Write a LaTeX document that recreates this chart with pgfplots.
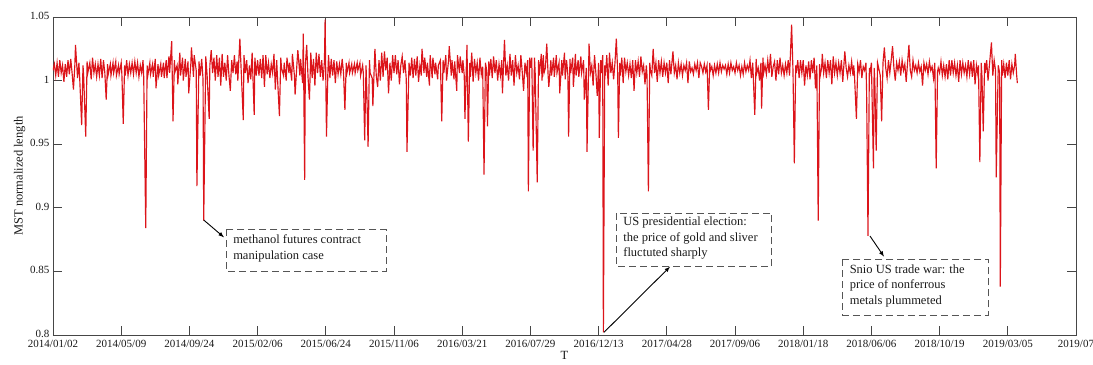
\documentclass[border=0pt]{standalone}
\usepackage{pgfplots}
\pgfplotsset{compat=1.18}
\usepackage{fontspec}
\setmainfont{Liberation Serif}
\definecolor{linered}{RGB}{220,20,26}
\definecolor{framegray}{RGB}{70,70,70}
\definecolor{boxgray}{RGB}{85,85,85}
\begin{document}
\begin{tikzpicture}
\begin{axis}[
  scale only axis,
  width=1023pt, height=318pt,
  xmin=0, xmax=1500, ymin=0.8, ymax=1.05,
  xtick={0,100,...,1500},
  xticklabels={2014/01/02,2014/05/09,2014/09/24,2015/02/06,2015/06/24,2015/11/06,2016/03/21,2016/07/29,2016/12/13,2017/04/28,2017/09/06,2018/01/18,2018/06/06,2018/10/19,2019/03/05,2019/07},
  ytick={0.8,0.85,0.9,0.95,1,1.05},
  yticklabels={0.8,0.85,0.9,0.95,1,1.05},
  tick align=inside,
  major tick length=9pt,
  axis line style={framegray, line width=0.8pt},
  tick style={framegray, line width=0.8pt},
  ticklabel style={font=\fontsize{11}{13}\selectfont, text=black!90},
  xticklabel style={yshift=-1.5pt},
  yticklabel style={yshift=1pt},
  /pgf/number format/assume math mode=true,
  xlabel={T}, ylabel={MST normalized length},
  label style={font=\fontsize{12.5}{15}\selectfont, text=black!90},
  xlabel style={yshift=3pt},
  ylabel style={yshift=-2pt},
  clip=true,
]
\addplot[linered, line width=1.15pt] coordinates {
(0,1.008)(2,1.013)(4,1.004)(6,1.014)(8,1.003)(10,1.016)(12,1.006)(14,1.012)(16,0.999)(18,1.013)(20,1.003)(22,1.016)(24,1.005)(26,1.017)(28,1.006)(30,0.993)(32,1.012)(33,1.028)(36,1.002)(38,1.014)(39,1.004)(42,0.965)(44,1.012)(45,1.003)(48,0.956)(50,1.015)(51,1.006)(54,1.014)(56,1.001)(58,1.018)(60,1.006)(62,1.013)(64,1.003)(66,1.013)(68,1.004)(70,1.017)(72,1.002)(74,1.016)(76,1.006)(78,0.985)(80,1.013)(81,1.005)(84,1.013)(85,1.004)(88,1.014)(89,1.006)(92,1.015)(93,1.004)(96,1.012)(97,1.005)
(100,1.014)(101,1.005)(103,0.966)(105,1.012)(106,1.004)(108,1.016)(110,1.004)(112,1.013)(114,1.006)(116,1.014)(118,1.005)(120,1.015)(122,1.006)(124,1.014)(126,1.003)(128,1.012)(130,1.006)(132,1.016)(133,1.003)(136,0.884)(138,1.012)(139,1.004)(142,1.014)(143,1.005)(146,1.013)(147,1.003)(150,1.017)(151,0.994)(154,1.013)(155,1.004)(158,1.013)(159,1.003)(162,1.014)(163,1.002)(166,1.016)(167,1.002)(170,1.019)(171,1.006)(174,1.031)(176,0.968)(178,1.016)(179,1.007)(182,1.012)(183,0.997)(186,1.022)(187,1.004)(190,1.018)(191,1.000)(194,1.017)(195,1.003)(198,1.015)(199,0.990)
(202,1.012)(203,1.026)(206,1.003)(207,1.020)(210,1.008)(211,0.917)(214,1.015)(216,1.004)(218,1.017)(220,1.001)(221,0.890)(224,1.019)(226,1.004)(229,0.970)(230,1.012)(232,1.024)(234,1.006)(236,1.018)(238,1.000)(240,1.020)(242,1.003)(244,1.018)(246,0.996)(248,1.021)(250,1.003)(252,1.014)(254,1.000)(256,1.020)(258,1.004)(260,0.992)(262,1.016)(264,1.006)(266,1.020)(268,1.005)(270,1.015)(271,1.000)(274,1.033)(276,1.007)(279,0.969)(280,1.020)(282,1.006)(284,1.016)(286,0.998)(288,1.012)(290,1.001)(292,1.022)(295,0.973)(296,1.018)(298,1.004)
(300,1.016)(302,1.004)(304,1.017)(306,1.002)(308,1.020)(310,0.995)(312,1.020)(314,1.005)(316,1.014)(318,1.002)(320,1.013)(322,1.006)(324,1.021)(326,0.993)(328,1.016)(329,1.004)(332,0.972)(334,1.018)(335,1.010)(338,1.004)(339,1.014)(342,1.000)(343,1.018)(346,1.006)(347,1.014)(350,1.000)(351,1.021)(354,1.004)(355,0.989)(358,1.016)(359,1.024)(362,1.004)(363,1.017)(366,0.998)(367,1.037)(369,0.922)(370,1.012)(372,1.028)(374,1.002)(376,0.985)(378,1.022)(380,1.002)(382,1.017)(384,0.996)(386,1.022)(388,1.006)(390,1.021)(392,1.003)(394,1.016)(396,1.000)(398,1.015)(399,1.048)(401,0.956)
(403,1.006)(404,1.020)(406,1.002)(408,1.017)(410,1.004)(412,1.016)(414,0.998)(416,1.015)(418,1.005)(420,1.013)(422,1.005)(424,1.017)(426,1.006)(428,0.977)(430,1.014)(431,1.006)(434,1.014)(435,1.006)(438,1.013)(439,1.006)(442,1.013)(443,1.006)(446,1.014)(447,1.008)(450,1.014)(451,1.004)(454,1.012)(455,1.006)(457,0.953)(459,1.012)(460,0.994)(462,0.948)(464,1.016)(465,1.006)(468,1.002)(469,0.980)(471,1.010)(472,1.025)(474,1.004)(476,0.995)(478,1.016)(480,1.000)(482,1.022)(484,1.003)(486,1.023)(488,1.008)(490,1.018)(492,0.990)(494,1.014)(496,1.000)(498,1.020)
(500,1.006)(502,1.020)(504,1.005)(506,1.016)(508,0.997)(510,1.012)(512,1.019)(514,1.006)(516,1.016)(518,1.001)(519,0.944)(522,1.014)(524,1.004)(526,1.018)(528,1.002)(530,1.017)(532,1.004)(534,1.019)(536,0.999)(538,1.012)(540,1.004)(541,1.025)(544,1.006)(545,1.018)(548,1.003)(549,1.014)(552,0.996)(553,1.020)(556,1.002)(557,1.018)(560,1.005)(561,1.014)(564,1.001)(565,1.012)(568,1.016)(570,0.968)(572,1.016)(573,1.006)(576,1.020)(577,1.000)(580,1.016)(581,1.027)(584,1.004)(585,1.016)(588,1.001)(589,1.015)(592,0.992)(593,1.020)(596,1.006)(597,1.019)
(600,1.006)(601,1.016)(603,1.004)(604,0.970)(606,1.010)(607,1.028)(609,0.952)(611,1.014)(612,1.003)(614,1.022)(616,0.999)(618,1.017)(620,1.006)(622,1.014)(624,1.000)(626,1.018)(628,1.005)(630,1.011)(632,0.926)(634,1.014)(636,1.008)(637,0.964)(639,1.015)(640,1.004)(642,1.017)(644,1.002)(646,1.019)(648,1.006)(650,1.016)(652,1.000)(654,1.013)(656,1.004)(658,1.016)(659,0.990)(662,1.032)(664,1.004)(666,1.012)(668,1.000)(670,1.021)(672,1.004)(674,1.016)(676,0.996)(678,1.020)(680,1.006)(682,1.012)(684,1.001)(686,1.020)(688,1.007)(690,0.992)(692,1.014)(694,1.006)(696,1.016)(697,0.913)
(699,1.018)(700,1.010)(702,1.018)(704,0.945)(706,1.018)(707,1.006)(710,0.920)(712,1.016)(713,1.004)(716,1.021)(717,1.000)(719,1.020)(720,1.006)(722,1.010)(724,1.029)(726,1.004)(727,0.995)(730,1.016)(731,1.004)(734,1.018)(735,1.003)(738,1.020)(739,1.006)(742,1.014)(743,0.990)(746,1.016)(747,1.004)(750,1.022)(751,1.001)(753,1.016)(755,1.004)(756,0.956)(758,1.017)(759,1.006)(762,1.018)(763,0.995)(766,1.021)(767,1.004)(770,1.016)(771,1.003)(774,1.019)(775,1.006)(778,1.016)(779,0.985)(782,1.010)(783,0.944)(786,1.029)(788,1.006)(790,1.012)(792,0.996)(794,1.020)(796,1.006)(798,0.988)
(800,1.014)(801,0.955)(803,1.016)(804,1.006)(806,1.020)(807,0.802)(809,1.012)(810,1.004)(812,1.020)(814,0.996)(816,1.022)(818,1.006)(820,1.014)(822,1.001)(824,1.014)(826,1.033)(828,1.006)(829,0.955)(831,1.014)(832,1.004)(834,1.018)(836,0.998)(838,1.018)(840,1.007)(842,1.014)(844,1.004)(846,1.013)(848,1.002)(850,1.016)(852,0.992)(854,1.016)(856,1.006)(858,1.015)(860,1.003)(862,1.019)(864,1.007)(866,1.012)(868,0.997)(870,1.012)(871,1.004)(873,0.913)(875,1.014)(876,1.008)(878,1.004)(880,1.025)(882,1.006)(884,1.014)(886,0.999)(888,1.016)(890,1.006)(892,1.015)(894,1.003)(896,1.014)(898,1.006)
(900,1.014)(902,0.998)(904,1.016)(906,1.005)(909,1.023)(911,1.006)(913,1.012)(915,1.001)(917,1.014)(919,1.006)(921,1.013)(923,1.004)(925,1.012)(927,1.008)(929,1.014)(931,0.998)(933,1.015)(935,1.007)(937,1.010)(939,1.005)(941,1.013)(943,1.008)(945,1.014)(947,1.002)(949,1.014)(951,1.011)(953,1.006)(955,1.013)(957,1.007)(959,1.012)(961,0.977)(963,1.014)(964,1.008)(966,1.011)(968,1.004)(970,1.012)(972,1.006)(974,1.013)(976,1.006)(978,1.014)(980,1.007)(982,1.012)(984,1.009)(986,1.012)(988,1.005)(990,1.013)(992,1.006)(994,1.014)(996,1.008)(998,1.011)
(1000,1.006)(1002,1.014)(1004,1.008)(1006,1.012)(1008,1.004)(1010,1.011)(1012,1.005)(1014,1.014)(1016,1.007)(1018,1.012)(1020,1.008)(1022,1.016)(1024,1.002)(1026,1.014)(1029,0.973)(1031,1.017)(1032,1.006)(1034,1.010)(1036,1.000)(1038,1.014)(1039,0.978)(1041,1.018)(1042,1.006)(1044,1.012)(1046,1.005)(1048,1.016)(1050,1.006)(1052,1.021)(1054,1.003)(1056,1.011)(1058,1.015)(1060,1.000)(1062,1.016)(1064,1.005)(1066,1.018)(1068,1.006)(1070,1.012)(1072,1.004)(1074,1.013)(1076,1.006)(1078,1.016)(1080,1.004)(1083,1.044)(1085,1.008)(1087,0.935)(1089,1.012)(1090,1.006)(1092,1.016)(1094,1.002)(1096,1.016)(1098,1.006)
(1100,1.016)(1102,0.996)(1104,1.012)(1106,1.004)(1108,1.015)(1110,1.001)(1112,1.016)(1114,1.006)(1116,1.018)(1118,0.994)(1120,1.012)(1122,0.890)(1124,1.013)(1125,1.004)(1127,1.010)(1128,1.021)(1130,1.006)(1132,1.014)(1134,1.002)(1136,1.016)(1138,1.006)(1140,1.016)(1142,0.997)(1144,1.019)(1146,1.006)(1148,1.014)(1150,1.004)(1152,1.014)(1154,1.006)(1156,1.016)(1158,0.999)(1161,1.023)(1163,1.010)(1165,1.003)(1167,1.012)(1169,1.006)(1171,1.015)(1173,1.004)(1174,1.012)(1175,1.006)(1178,0.970)(1180,1.013)(1182,1.007)(1184,1.016)(1186,1.002)(1188,1.011)(1190,1.008)(1192,1.014)(1193,0.990)(1195,0.878)(1197,1.010)(1198,1.006)
(1200,1.014)(1203,0.931)(1204,1.010)(1205,1.000)(1207,0.945)(1209,1.014)(1211,1.009)(1213,1.004)(1215,0.968)(1217,1.014)(1219,1.026)(1221,1.010)(1223,1.002)(1225,1.016)(1227,1.006)(1229,1.016)(1231,1.027)(1233,1.010)(1235,1.000)(1237,1.014)(1239,1.008)(1241,1.015)(1243,1.004)(1245,1.016)(1247,1.008)(1249,1.013)(1251,0.999)(1253,1.014)(1255,1.028)(1257,1.008)(1259,1.003)(1261,1.016)(1263,1.008)(1265,1.012)(1267,1.006)(1269,1.014)(1271,1.007)(1273,1.011)(1275,0.996)(1277,1.014)(1279,1.008)(1281,1.013)(1283,1.005)(1285,1.015)(1287,1.008)(1289,1.011)(1291,1.002)(1293,1.014)(1295,0.931)(1297,1.007)(1298,1.010)
(1300,1.006)(1302,1.015)(1304,1.004)(1306,1.012)(1308,1.003)(1310,1.013)(1312,1.001)(1314,1.016)(1316,1.004)(1318,1.016)(1320,1.006)(1322,1.014)(1324,1.004)(1326,1.012)(1328,0.999)(1330,1.016)(1332,1.005)(1334,1.014)(1336,1.006)(1338,1.012)(1340,1.003)(1342,1.016)(1344,1.005)(1346,1.015)(1348,1.003)(1350,1.016)(1352,0.997)(1354,1.012)(1356,1.005)(1357,1.012)(1359,0.936)(1361,1.014)(1362,1.005)(1364,0.960)(1366,1.014)(1367,1.006)(1369,1.016)(1371,1.000)(1373,1.012)(1376,1.030)(1378,1.004)(1380,1.016)(1382,1.008)(1383,0.924)(1386,1.012)(1388,1.006)(1389,0.838)(1391,1.016)(1392,1.004)(1394,1.013)(1396,1.002)(1398,1.014)(1400,1.004)(1402,1.016)(1404,1.001)(1406,1.013)(1408,1.006)(1410,1.012)(1411,1.021)(1413,1.004)(1414,0.998)
};
% annotation boxes
\draw[boxgray, line width=0.9pt, dash pattern=on 7pt off 4pt] (axis cs:253.7,0.8831) rectangle (axis cs:488.3,0.8503);
\node[anchor=north west, align=left, inner sep=0pt, font=\fontsize{12.5}{15.5}\selectfont, text=black!90] at (axis cs:264,0.8790) {methanol futures contract\\manipulation case};
\draw[-latex, line width=0.9pt] (axis cs:221,0.8904) -- (axis cs:250.7,0.8768);

\draw[boxgray, line width=0.9pt, dash pattern=on 7pt off 4pt] (axis cs:826.6,0.8957) rectangle (axis cs:1053.9,0.8537);
\node[anchor=north west, align=left, inner sep=0pt, font=\fontsize{12.5}{15.5}\selectfont, text=black!90] at (axis cs:836,0.8930) {US presidential election:\\the price of gold and sliver\\fluctuted sharply};
\draw[-latex, line width=0.9pt] (axis cs:807.9,0.8021) -- (axis cs:904.7,0.8537);

\draw[boxgray, line width=0.9pt, dash pattern=on 7pt off 4pt] (axis cs:1157.9,0.8595) rectangle (axis cs:1371.4,0.8157);
\node[anchor=north west, align=left, inner sep=0pt, font=\fontsize{12.5}{15.5}\selectfont, text=black!90] at (axis cs:1168,0.8555) {Snio US trade war: the\\price of nonferrous\\metals plummeted};
\draw[-latex, line width=0.9pt] (axis cs:1197.9,0.8778) -- (axis cs:1218.5,0.8616);

\coordinate (ll) at (rel axis cs:0,0);
\coordinate (ur) at (rel axis cs:1,1);
\end{axis}
\pgfresetboundingbox
\path[use as bounding box] ([shift={(-53pt,-30pt)}]ll) rectangle ([shift={(17pt,17pt)}]ur);
\end{tikzpicture}
\end{document}
